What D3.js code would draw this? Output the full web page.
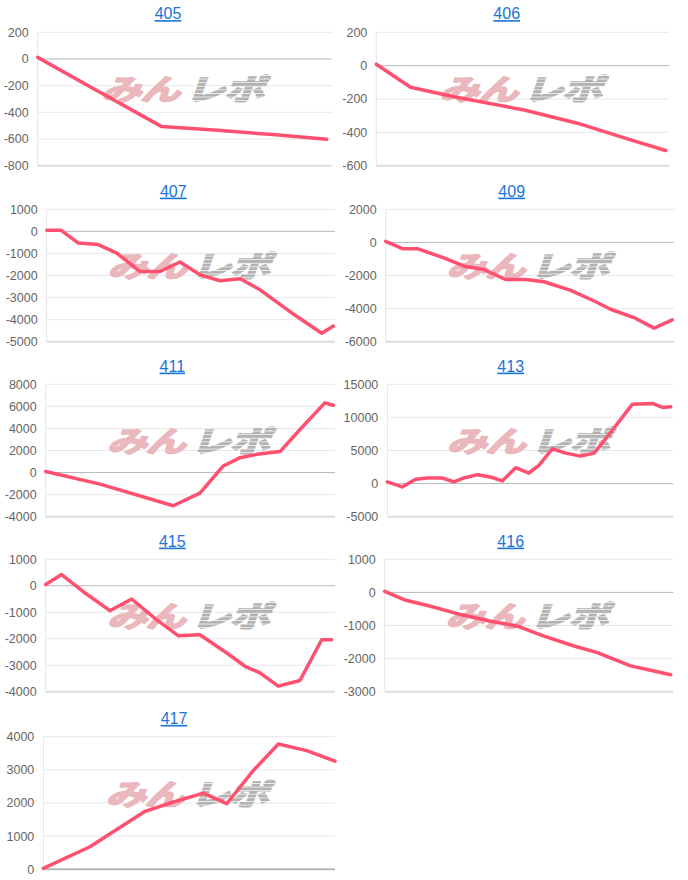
<!DOCTYPE html>
<html><head><meta charset="utf-8">
<script src="https://cdn.jsdelivr.net/npm/d3@7"></script>
<style>
body{margin:0;background:#fff;}
svg{display:block;}
</style></head><body>
<svg id="c" width="688" height="880"></svg>
<script>
// ---- data (x as % of plot width, y as value) ----
const titles = ["405","406","407","409","411","413","415","416","417"];
const yTicks = [
  [200,0,-200,-400,-600,-800],
  [200,0,-200,-400,-600],
  [1000,0,-1000,-2000,-3000,-4000,-5000],
  [2000,0,-2000,-4000,-6000],
  [8000,6000,4000,2000,0,-2000,-4000],
  [15000,10000,5000,0,-5000],
  [1000,0,-1000,-2000,-3000,-4000],
  [1000,0,-1000,-2000,-3000],
  [4000,3000,2000,1000,0]
];
const x405 = [0,21,42.2,60,80,98.3];
const v405 = [12,-248,-507,-533,-567,-602];
const x406 = [0,11.7,26.5,50.5,68.7,86.9,98.9];
const v406 = [8,-130,-186,-266,-345,-445,-509];
const x407 = [0,5.0,11.0,17.9,24.3,32.4,39.3,46.2,53.2,60.1,67.1,74.0,84.4,95.4,99.4];
const v407 = [45,45,-530,-600,-985,-1820,-1820,-1390,-1970,-2240,-2150,-2650,-3640,-4620,-4290];
const x409 = [0,5.8,11.0,20.2,27.2,34.1,41.6,48.6,54.9,64.2,72.3,78.0,86.1,93.1,99.4];
const v409 = [60,-380,-380,-940,-1440,-1640,-2240,-2240,-2380,-2900,-3540,-4040,-4540,-5180,-4680];
const x411 = [0,18.8,44.1,53.3,61.4,67.2,72.9,81.0,87.9,96.5,99.4];
const v411 = [90,-1050,-3010,-1860,600,1350,1650,1900,3900,6320,6100];
const x413 = [0,5.2,9.9,14.0,19.2,23.3,26.8,31.5,36.1,40.2,44.9,49.5,53.0,57.7,62.4,67.6,72.3,78.1,85.7,92.7,96.2,99.1];
const v413 = [250,-500,650,850,850,250,850,1350,1000,400,2400,1600,2750,5250,4600,4150,4600,7750,12000,12100,11500,11600];
const x415 = [0,5.5,13.0,22.2,29.7,38.4,45.9,53.3,62.6,68.9,74.1,80.4,87.9,95.4,98.8];
const v415 = [50,425,-225,-940,-500,-1290,-1890,-1850,-2540,-3040,-3290,-3790,-3575,-2040,-2040];
const x416 = [0,6.7,15.9,26.3,36.7,46.0,55.2,65.6,73.7,85.2,92.1,99.1];
const v416 = [30,-220,-420,-670,-870,-1020,-1320,-1620,-1820,-2220,-2350,-2490];
const x417 = [0,16.0,34.9,44.6,54.9,62.9,72.0,80.6,90.3,100];
const v417 = [30,680,1750,2030,2300,1980,2980,3780,3580,3260];
const xs = [x405,x406,x407,x409,x411,x413,x415,x416,x417];
const vs = [v405,v406,v407,v409,v411,v413,v415,v416,v417];

// ---- layout ----
const layout = [
  {ax:37.7, r:331.7, t:32.3,  b:165.7, tx:168,   ty:13.5},
  {ax:376.3,r:669,   t:32.3,  b:165.7, tx:506.7, ty:13.5},
  {ax:46.7, r:335,   t:209.3, b:341.7, tx:173.3, ty:191},
  {ax:385.7,r:674,   t:209.3, b:341.7, tx:511.7, ty:191},
  {ax:45.7, r:335,   t:384.3, b:516.7, tx:172.3, ty:366},
  {ax:387.3,r:673.3, t:384.3, b:516.7, tx:510.7, ty:366},
  {ax:45.7, r:335,   t:559.3, b:691.7, tx:172.3, ty:541},
  {ax:384.7,r:673.3, t:559.3, b:691.7, tx:510.7, ty:541},
  {ax:43.3, r:335,   t:736.7, b:869.3, tx:174,   ty:718.3}
];

const svg = d3.select("#c");
const defs = svg.append("defs");
const pat = defs.append("pattern").attr("id","stripe").attr("patternUnits","userSpaceOnUse")
  .attr("width",8).attr("height",5);
pat.append("rect").attr("width",8).attr("height",5).attr("fill","#b2b2b2");
pat.append("rect").attr("y",4).attr("width",8).attr("height",1).attr("fill","#ffffff");

titles.forEach((title,i)=>{
  const L = layout[i];
  const ticks = yTicks[i];
  const y = d3.scaleLinear().domain([d3.min(ticks), d3.max(ticks)]).range([L.b, L.t]);
  const x = d3.scaleLinear().domain([0,100]).range([L.ax, L.r]);
  const g = svg.append("g");

  // title
  g.append("text").attr("x",L.tx).attr("y",L.ty).attr("dy","0.35em")
    .attr("text-anchor","middle").attr("font-family","Liberation Sans, Arial, sans-serif")
    .attr("font-size",16).attr("fill","#1a73d9").attr("text-decoration","underline").text(title);

  // grid
  const minT = d3.min(ticks);
  g.selectAll("line.grid").data(ticks).join("line")
    .attr("x1",L.ax).attr("x2",L.r).attr("y1",d=>y(d)).attr("y2",d=>y(d))
    .attr("stroke",d=> d===0 ? "#b8b8b8" : (d===minT ? "#dcdcdc" : "#e8e8e8"))
    .attr("stroke-width",d=> d===minT ? 2 : 1);
  g.append("line").attr("x1",L.ax).attr("x2",L.ax).attr("y1",L.t).attr("y2",L.b)
    .attr("stroke","#e6e6e6");

  // y tick labels
  g.selectAll("text.tick").data(ticks).join("text")
    .attr("x",L.ax-9).attr("y",d=>y(d)).attr("dy","0.35em").attr("text-anchor","end")
    .attr("font-family","Liberation Sans, Arial, sans-serif").attr("font-size",12.5)
    .attr("fill","#666").text(d=>d);

  // watermark
  const cx = (L.ax+L.r)/2, cy = L.t+58;
  const wm = g.append("g").attr("transform",`translate(${cx},${cy}) scale(1,0.72) skewX(-14)`);
  wm.append("text").attr("x",-2).attr("y",0).attr("dy","0.35em").attr("text-anchor","end")
    .attr("font-family","Noto Sans CJK JP").attr("font-weight",700).attr("font-size",40)
    .attr("fill","#eab8bc").attr("stroke","#eab8bc").attr("stroke-width",2.6)
    .attr("stroke-linejoin","round").attr("letter-spacing",-1).text("みん");
  wm.append("text").attr("x",4).attr("y",0).attr("dy","0.35em").attr("text-anchor","start")
    .attr("font-family","Noto Sans CJK JP").attr("font-weight",700).attr("font-size",40)
    .attr("fill","url(#stripe)").attr("stroke","url(#stripe)").attr("stroke-width",2.6)
    .attr("letter-spacing",-1).text("レポ");

  // line
  const pts = xs[i].map((xv,k)=>[xv, vs[i][k]]);
  g.append("path").datum(pts)
    .attr("d", d3.line().x(d=>x(d[0])).y(d=>y(d[1])))
    .attr("fill","none").attr("stroke","#ff5070").attr("stroke-width",3.5)
    .attr("stroke-linejoin","round").attr("stroke-linecap","round");
});
</script>
</body></html>
